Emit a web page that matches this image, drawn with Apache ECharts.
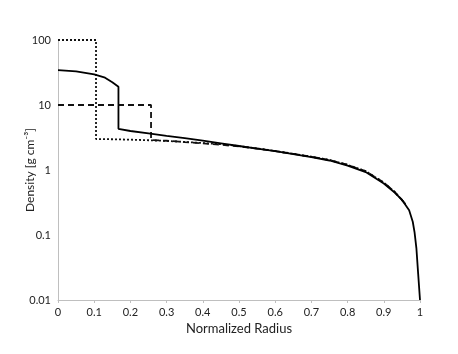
<!DOCTYPE html>
<html>
<head>
<meta charset="utf-8">
<script src="https://cdn.jsdelivr.net/npm/echarts@6/dist/echarts.min.js"></script>
<style>html,body{margin:0;padding:0;background:#fff;}#c{width:458px;height:354px;}</style>
</head>
<body>
<div id="c"></div>
<script>
var xTicks = [0, 0.1, 0.2, 0.3, 0.4, 0.5, 0.6, 0.7, 0.8, 0.9, 1];
var yTicks = [0.01, 0.1, 1, 10, 100];

var solidX = [0, 0.05, 0.1, 0.13, 0.15, 0.167, 0.167, 0.2, 0.25, 0.3, 0.35, 0.4, 0.45, 0.5, 0.55, 0.6, 0.65, 0.7, 0.75, 0.8, 0.85, 0.9, 0.93, 0.95, 0.97, 0.98, 0.985, 0.99, 0.995, 1.0];
var solidY = [34.5, 33, 29.5, 26.3, 22.4, 19.1, 4.3, 3.98, 3.65, 3.35, 3.09, 2.82, 2.57, 2.34, 2.14, 1.95, 1.76, 1.58, 1.40, 1.17, 0.93, 0.62, 0.45, 0.35, 0.24, 0.16, 0.11, 0.063, 0.025, 0.01];

var dashX = [0, 0.257, 0.257, 0.3, 0.35, 0.4, 0.45, 0.5, 0.55, 0.6, 0.65, 0.7, 0.75, 0.8, 0.85, 0.9, 0.93, 0.96];
var dashY = [10, 10, 2.9, 2.82, 2.69, 2.57, 2.45, 2.3, 2.14, 1.95, 1.77, 1.6, 1.42, 1.2, 0.96, 0.64, 0.46, 0.3];

var dotX = [0, 0.105, 0.105, 0.15, 0.2, 0.25, 0.3, 0.35, 0.4, 0.45, 0.5, 0.55, 0.6, 0.65, 0.7, 0.75, 0.8, 0.85, 0.9, 0.93, 0.96];
var dotY = [100, 100, 3.0, 2.97, 2.93, 2.87, 2.8, 2.7, 2.6, 2.5, 2.33, 2.15, 1.96, 1.78, 1.6, 1.43, 1.2, 0.96, 0.64, 0.46, 0.3];

function pairs(xs, ys) { return xs.map(function (x, i) { return [x, ys[i]]; }); }

var font = 'Lato, "Open Sans", sans-serif';
var chart = echarts.init(document.getElementById('c'), null, { renderer: 'canvas' });
chart.setOption({
  animation: false,
  backgroundColor: '#fff',
  grid: { left: 58, right: 38, top: 40, bottom: 54, containLabel: false },
  xAxis: {
    type: 'value', min: 0, max: 1, interval: 0.1,
    name: 'Normalized Radius', nameLocation: 'middle', nameGap: 22, nameMoveOverlap: false,
    nameTextStyle: { fontFamily: font, fontSize: 13, color: '#222' },
    axisLine: { lineStyle: { color: '#bfbfbf', width: 1 } },
    axisTick: { show: true, length: 3, lineStyle: { color: '#bfbfbf' } },
    axisLabel: { fontFamily: font, fontSize: 11, color: '#222', margin: 7,
      formatter: function (v) { return String(Math.round(v * 10) / 10); } },
    splitLine: { show: false }
  },
  yAxis: {
    type: 'log', logBase: 10, min: 0.01, max: 100,
    name: 'Density [g cm\u207B\u00B3]', nameLocation: 'middle', nameGap: 22, nameRotate: 90, nameMoveOverlap: false,
    nameTextStyle: { fontFamily: font, fontSize: 12, color: '#222' },
    axisLine: { show: true, lineStyle: { color: '#bfbfbf', width: 1 } },
    axisTick: { show: false },
    axisLabel: { fontFamily: font, fontSize: 11, color: '#222', margin: 7,
      formatter: function (v) {
        var best = yTicks.reduce(function (a, b) { return Math.abs(Math.log10(b) - Math.log10(v)) < Math.abs(Math.log10(a) - Math.log10(v)) ? b : a; });
        return String(best);
      } },
    splitLine: { show: false }
  },
  series: [
    { type: 'line', data: pairs(dotX, dotY), showSymbol: false, smooth: false,
      lineStyle: { color: '#111', width: 1.8, type: [2, 2] }, z: 2 },
    { type: 'line', data: pairs(dashX, dashY), showSymbol: false, smooth: false,
      lineStyle: { color: '#111', width: 1.8, type: [6, 4] }, z: 3 },
    { type: 'line', data: pairs(solidX, solidY), showSymbol: false, smooth: false,
      lineStyle: { color: '#000', width: 1.8 }, z: 4 }
  ]
});
</script>
</body>
</html>
